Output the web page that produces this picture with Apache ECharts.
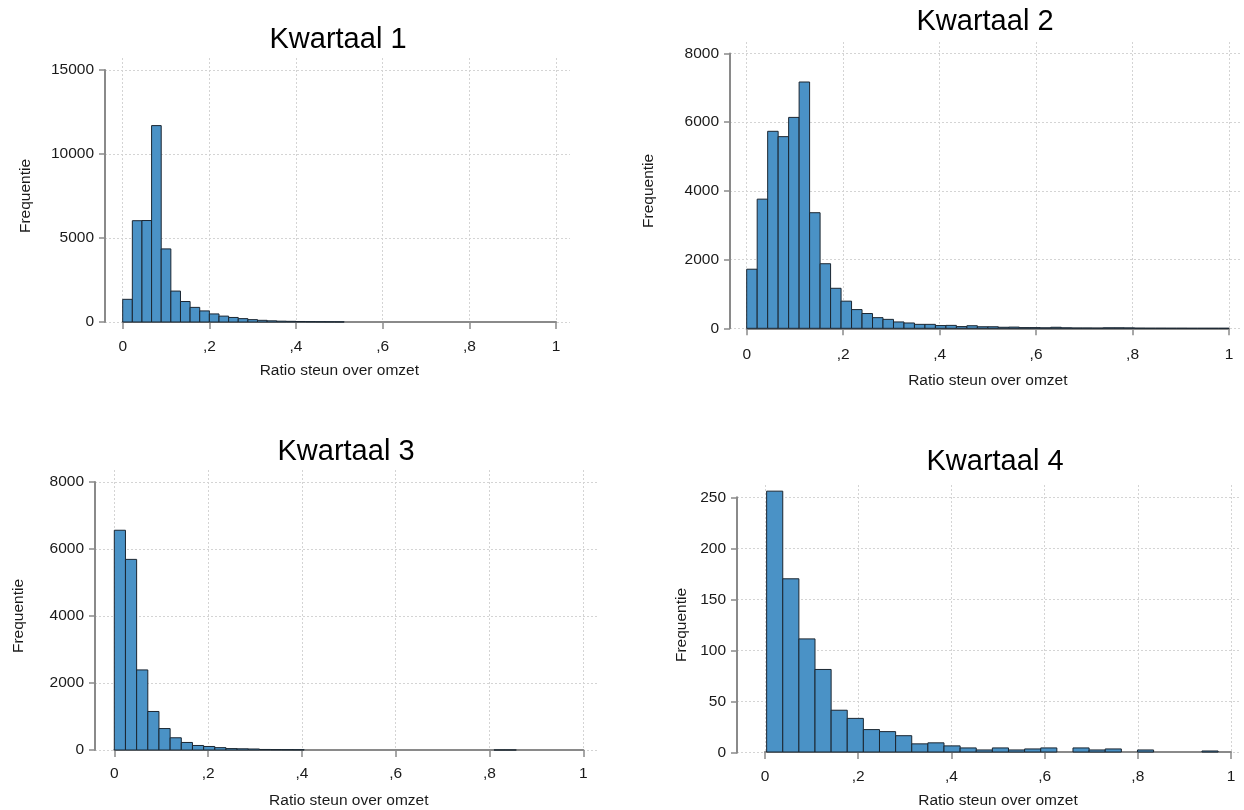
<!DOCTYPE html>
<html>
<head>
<meta charset="utf-8">
<script src="https://cdn.jsdelivr.net/npm/echarts@6/dist/echarts.min.js"></script>
<style>
  html, body { margin: 0; padding: 0; background: #ffffff; }
  #chart { width: 1244px; height: 810px; }
</style>
</head>
<body>
<div id="chart"></div>
<script>
// ---------- DATA ----------
const panelTitles = ['Kwartaal 1', 'Kwartaal 2', 'Kwartaal 3', 'Kwartaal 4'];
const xAxisTitle = 'Ratio steun over omzet';
const yAxisTitle = 'Frequentie';
const xTickValues = [0, 0.2, 0.4, 0.6, 0.8, 1];
const xTickLabels = ['0', ',2', ',4', ',6', ',8', '1'];

// y tick values per panel
const yTicksQ1 = [0, 5000, 10000, 15000];
const yTicksQ2 = [0, 2000, 4000, 6000, 8000];
const yTicksQ3 = [0, 2000, 4000, 6000, 8000];
const yTicksQ4 = [0, 50, 100, 150, 200, 250];

// histogram bin definitions (start of first bin, bin width)
const binStartQ1 = 0,      binWidthQ1 = 1 / 45;
const binStartQ2 = 0,      binWidthQ2 = 1 / 46;
const binStartQ3 = 0,      binWidthQ3 = 1 / 42;
const binStartQ4 = 0.0035, binWidthQ4 = 0.0346;

// frequencies per bin
const countsQ1 = [1350, 6030, 6040, 11690, 4350, 1840, 1220, 870, 660, 480, 350, 270, 200, 140, 100,
                  70, 50, 40, 30, 22, 16, 12, 9, 0, 0, 0, 0, 0, 0, 0, 0, 0, 0, 0, 0, 0, 0, 0, 0, 0,
                  0, 0, 0, 0, 0];
const countsQ2 = [1720, 3760, 5735, 5580, 6140, 7170, 3365, 1880, 1165, 790, 545, 430, 310, 260, 185,
                  155, 115, 115, 80, 85, 50, 75, 45, 45, 30, 35, 20, 20, 15, 30, 15, 10, 10, 8, 15,
                  15, 12, 5, 3, 3, 2, 2, 1, 1, 1, 1];
const countsQ3 = [6560, 5690, 2390, 1150, 640, 365, 225, 135, 105, 70, 42, 36, 30, 16, 13, 11, 9, 0, 0,
                  0, 0, 0, 0, 0, 0, 0, 0, 0, 0, 0, 0, 0, 0, 0, 1, 1, 0, 0, 0, 0, 0, 0];
const countsQ4 = [256, 170, 111, 81, 41, 33, 22, 20, 16, 8, 9, 6, 4, 2, 4, 2, 3, 4, 0, 4, 2, 3, 0, 2,
                  0, 0, 0, 1];

// ---------- LAYOUT (pixels) ----------
const layouts = [
  { yAxisX: 105, plotRight: 570, x0: 122.7, x1: 556,  gridTop: 58,  topTick: 70,   base: 322,   titleX: 338, titleTop: 25,  xLabMargin: 17, xNameGap: 41, yNameGap: 71 },
  { yAxisX: 730, plotRight: 1240, x0: 746.7, x1: 1229, gridTop: 42,  topTick: 53.5, base: 328.3, titleX: 985, titleTop: 7,   xLabMargin: 18, xNameGap: 44, yNameGap: 73 },
  { yAxisX: 95,  plotRight: 597, x0: 114.3, x1: 583.3, gridTop: 470, topTick: 482,  base: 750,   titleX: 346, titleTop: 437, xLabMargin: 16, xNameGap: 43, yNameGap: 68 },
  { yAxisX: 737, plotRight: 1240, x0: 765,  x1: 1231, gridTop: 485, topTick: 497.3, base: 752.7, titleX: 995, titleTop: 447, xLabMargin: 17, xNameGap: 41, yNameGap: 47 }
];

const panels = [
  { ticks: yTicksQ1, start: binStartQ1, width: binWidthQ1, counts: countsQ1 },
  { ticks: yTicksQ2, start: binStartQ2, width: binWidthQ2, counts: countsQ2 },
  { ticks: yTicksQ3, start: binStartQ3, width: binWidthQ3, counts: countsQ3 },
  { ticks: yTicksQ4, start: binStartQ4, width: binWidthQ4, counts: countsQ4 }
];

// ---------- STYLE ----------
const FONT = 'Liberation Sans, Arial, sans-serif';
const AXIS_COLOR = '#8a8a8a';
const GRID_COLOR = '#d4d4d4';
const BAR_FILL = '#4a92c6';
const BAR_STROKE = '#1b2631';
const TEXT_COLOR = '#1a1a1a';
const LABEL_SIZE = 15.5;

function xLabel(v) {
  const i = xTickValues.findIndex(t => Math.abs(t - v) < 1e-9);
  return i >= 0 ? xTickLabels[i] : '';
}

const grids = [], xAxes = [], yAxes = [], series = [], titles = [];

panels.forEach((p, k) => {
  const L = layouts[k];
  const topVal = p.ticks[p.ticks.length - 1];
  const step = p.ticks[1] - p.ticks[0];
  const barMax = topVal * (L.base - L.gridTop) / (L.base - L.topTick);

  // grid A: bars, x axis, vertical grid lines
  const gA = grids.length;
  grids.push({ left: L.x0, top: L.gridTop, width: L.x1 - L.x0, height: L.base - L.gridTop, containLabel: false });
  // grid B: y axis, horizontal grid lines
  const gB = grids.length;
  grids.push({ left: L.yAxisX, top: L.topTick, width: L.plotRight - L.yAxisX, height: L.base - L.topTick, containLabel: false });

  const xA = xAxes.length;
  xAxes.push({
    type: 'value', gridIndex: gA, min: 0, max: 1, interval: 0.2,
    axisLine: { show: true, lineStyle: { color: AXIS_COLOR, width: 2 } },
    axisTick: { show: true, length: 7, lineStyle: { color: AXIS_COLOR, width: 1.5 } },
    axisLabel: { formatter: xLabel, fontSize: LABEL_SIZE, color: TEXT_COLOR, fontFamily: FONT, margin: L.xLabMargin },
    splitLine: { show: true, lineStyle: { color: GRID_COLOR, type: [2, 2], width: 1 } },
    name: xAxisTitle, nameLocation: 'middle', nameGap: L.xNameGap,
    nameTextStyle: { fontSize: LABEL_SIZE, color: TEXT_COLOR, fontFamily: FONT },
    z: 1
  });
  xAxes.push({ type: 'value', gridIndex: gB, min: 0, max: 1, show: false });

  const yA = yAxes.length;
  yAxes.push({ type: 'value', gridIndex: gA, min: 0, max: barMax, show: false });
  yAxes.push({
    type: 'value', gridIndex: gB, min: 0, max: topVal, interval: step,
    axisLine: { show: true, lineStyle: { color: AXIS_COLOR, width: 2 } },
    axisTick: { show: true, length: 6, lineStyle: { color: AXIS_COLOR, width: 1.5 } },
    axisLabel: { formatter: v => String(v), fontSize: LABEL_SIZE, color: TEXT_COLOR, fontFamily: FONT, margin: 11 },
    splitLine: { show: true, lineStyle: { color: GRID_COLOR, type: [2, 2], width: 1 } },
    name: yAxisTitle, nameLocation: 'middle', nameGap: L.yNameGap,
    nameTextStyle: { fontSize: LABEL_SIZE, color: TEXT_COLOR, fontFamily: FONT },
    z: 0
  });

  const data = p.counts.map((c, i) => [p.start + i * p.width, p.start + (i + 1) * p.width, c]);
  series.push({
    type: 'custom', xAxisIndex: xA, yAxisIndex: yA, data: data, z: 3,
    renderItem: function (params, api) {
      const v = api.value(2);
      if (!v) return null;
      const a = api.coord([api.value(0), 0]);
      const b = api.coord([api.value(1), v]);
      return {
        type: 'rect',
        shape: { x: a[0], y: b[1], width: b[0] - a[0], height: a[1] - b[1] },
        style: { fill: BAR_FILL, stroke: BAR_STROKE, lineWidth: 1 }
      };
    }
  });

  titles.push({
    text: panelTitles[k], left: L.titleX, top: L.titleTop, textAlign: 'center', padding: 0,
    textStyle: { fontSize: 29, fontWeight: 'normal', color: '#000', fontFamily: FONT }
  });
});

const chart = echarts.init(document.getElementById('chart'), null, { renderer: 'canvas' });
chart.setOption({
  animation: false,
  backgroundColor: '#ffffff',
  title: titles,
  grid: grids,
  xAxis: xAxes,
  yAxis: yAxes,
  series: series
});
</script>
</body>
</html>
